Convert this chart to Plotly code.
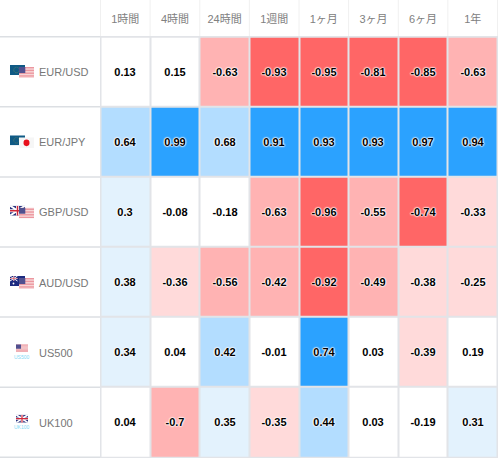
import base64
import plotly.graph_objects as go

periods = ["1時間", "4時間", "24時間", "1週間", "1ヶ月", "3ヶ月", "6ヶ月", "1年"]
symbols = ["EUR/USD", "EUR/JPY", "GBP/USD", "AUD/USD", "US500", "UK100"]
eur_usd = [0.13, 0.15, -0.63, -0.93, -0.95, -0.81, -0.85, -0.63]
eur_jpy = [0.64, 0.99, 0.68, 0.91, 0.93, 0.93, 0.97, 0.94]
gbp_usd = [0.3, -0.08, -0.18, -0.63, -0.96, -0.55, -0.74, -0.33]
aud_usd = [0.38, -0.36, -0.56, -0.42, -0.92, -0.49, -0.38, -0.25]
us500 = [0.34, 0.04, 0.42, -0.01, 0.74, 0.03, -0.39, 0.19]
uk100 = [0.04, -0.7, 0.35, -0.35, 0.44, 0.03, -0.19, 0.31]
rows = [eur_usd, eur_jpy, gbp_usd, aud_usd, us500, uk100]

W, H = 498, 458
L, T = 100, 36
PW, PH = W - L, H - T

RED3, RED2, RED1 = "#FF6666", "#FFB3B3", "#FFDADA"
BLUE1, BLUE2, BLUE3 = "#E3F2FD", "#B3DDFF", "#2BA2FF"
bands = [(-1, -0.72, RED3), (-0.72, -0.4, RED2), (-0.4, -0.2, RED1), (-0.2, 0.2, "#FFFFFF"),
         (0.2, 0.4, BLUE1), (0.4, 0.72, BLUE2), (0.72, 1, BLUE3)]
colorscale = []
for lo, hi, c in bands:
    colorscale += [[(lo + 1) / 2, c], [(hi + 1) / 2, c]]

fig = go.Figure(go.Heatmap(
    z=rows, x=periods, y=symbols, zmin=-1, zmax=1, colorscale=colorscale, showscale=False,
    xgap=2, ygap=2, hoverongaps=False, text=[[str(v) for v in r] for r in rows], texttemplate="%{text}",
    textfont=dict(family="Liberation Sans, Arial, sans-serif", size=11, color="#000000",
                  weight="bold", shadow="0 0 2px #fff, 0 0 2px #fff, 0 0 2px #fff, 0 0 1px #fff, 0 0 1px #fff"),
))

# Row separators across the label column, header column lines
shapes = []
for i in range(len(symbols) + 1):
    shapes.append(dict(type="line", xref="paper", yref="y", x0=-L / PW, x1=0, y0=i - 0.5, y1=i - 0.5,
                       line=dict(color="#DCDFE3", width=1.5), layer="below"))
for j in range(len(periods) + 1):
    shapes.append(dict(type="line", xref="x", yref="paper", x0=j - 0.5, x1=j - 0.5, y0=1, y1=1 + T / PH,
                       line=dict(color="#F0F0F0", width=1), layer="below"))

annotations = [dict(xref="paper", yref="y", x=-63 / PW, y=s, yshift=-0.5, text=s, xanchor="left", yanchor="middle",
                    showarrow=False, font=dict(family="Liberation Sans, Arial, sans-serif", size=11, color="#777777"))
               for s in symbols]
for s, i in (("US500", 4), ("UK100", 5)):
    annotations.append(dict(xref="paper", yref="y", x=-78 / PW, y=i, yshift=-5, text=s, xanchor="center",
                            yanchor="middle", showarrow=False,
                            font=dict(family="Liberation Sans, Arial, sans-serif", size=5, color="#7FD8F5")))


def uri(svg):
    return "data:image/svg+xml;base64," + base64.b64encode(svg.encode()).decode()


def stripes(w, h):
    s = "".join(f'<rect y="{k * h / 7:.2f}" width="{w}" height="{h / 14:.2f}" fill="#E8808A"/>' for k in range(7))
    return (f'<svg xmlns="http://www.w3.org/2000/svg" width="{w}" height="{h}"><rect width="{w}" height="{h}" fill="#FBEDED"/>'
            f'{s}<rect width="{w * 0.42:.1f}" height="{h * 0.55:.1f}" fill="#50508F"/></svg>')


EU = ('<svg xmlns="http://www.w3.org/2000/svg" width="30" height="20"><rect width="30" height="20" fill="#0F5A85"/>'
      '<circle cx="13" cy="10" r="5.5" fill="none" stroke="#C9B53A" stroke-width="1" stroke-dasharray="1 1.6"/></svg>')
JP = ('<svg xmlns="http://www.w3.org/2000/svg" width="30" height="20"><rect width="30" height="20" fill="#F6F6F6"/>'
      '<circle cx="15" cy="10" r="6" fill="#E8101C"/></svg>')
GB = ('<svg xmlns="http://www.w3.org/2000/svg" width="30" height="20"><rect width="30" height="20" fill="#2A3580"/>'
      '<path d="M0 0L30 20M30 0L0 20" stroke="#fff" stroke-width="4"/><path d="M15 0V20M0 10H30" stroke="#fff" stroke-width="6"/>'
      '<path d="M15 0V20M0 10H30" stroke="#D0283A" stroke-width="3"/></svg>')
AU = ('<svg xmlns="http://www.w3.org/2000/svg" width="30" height="20"><rect width="30" height="20" fill="#1C2A80"/>'
      '<path d="M0 0L15 10M15 0L0 10M7.5 0V10M0 5H15" stroke="#fff" stroke-width="2"/><path d="M7.5 0V10M0 5H15" stroke="#D0283A" stroke-width="1"/>'
      '<circle cx="7" cy="15" r="1.8" fill="#fff"/><circle cx="22" cy="6" r="1" fill="#fff"/><circle cx="22" cy="15" r="1" fill="#fff"/></svg>')
US = stripes(30, 20)

images = []


def flag(svg, x, y, w, h):
    images.append(dict(source=uri(svg), xref="paper", yref="paper", x=(x - L) / PW, y=(H - y) / PH, sizex=w / PW,
                       sizey=h / PH, xanchor="left", yanchor="top", sizing="stretch", layer="above"))


row_tops = [36 + i * PH / 6 for i in range(6)]
for i, base in enumerate((EU, EU, GB, AU)):
    flag(base, 10, row_tops[i] + 29, 15, 10)
    flag(JP if i == 1 else US, 19, row_tops[i] + 31, 15, 11)
flag(US, 16, row_tops[4] + 27, 12, 8)
flag(GB, 16, row_tops[5] + 27, 12, 8)

fig.update_layout(
    width=W, height=H, margin=dict(l=L, r=0, t=T, b=0),
    paper_bgcolor="#FFFFFF", plot_bgcolor="#E2E4E8",
    shapes=shapes, annotations=annotations, images=images,
    xaxis=dict(side="top", showgrid=False, zeroline=False, ticks="", ticklabelstandoff=10, type="category",
               tickfont=dict(family="Liberation Sans, Noto Sans CJK JP, sans-serif", size=11, color="#808080")),
    yaxis=dict(autorange="reversed", showgrid=False, zeroline=False, showticklabels=False, ticks="", type="category"),
)

fig.write_html("out.html", config=dict(displayModeBar=False),
               post_script="document.body.style.margin='0';document.body.style.overflow='hidden';")
